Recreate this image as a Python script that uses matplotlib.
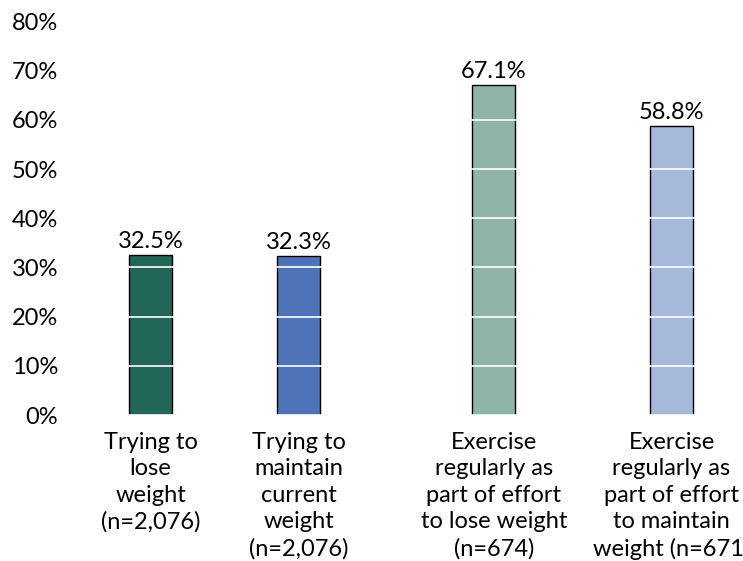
import matplotlib
matplotlib.use("Agg")
import matplotlib.pyplot as plt

# Survey shares by group
categories = [
    "Trying to\nlose\nweight\n(n=2,076)",
    "Trying to\nmaintain\ncurrent\nweight\n(n=2,076)",
    "Exercise\nregularly as\npart of effort\nto lose weight\n(n=674)",
    "Exercise\nregularly as\npart of effort\nto maintain\nweight (n=671)",
]
values = [32.5, 32.3, 67.1, 58.8]
value_labels = ["32.5%", "32.3%", "67.1%", "58.8%"]
y_ticks = [0, 10, 20, 30, 40, 50, 60, 70, 80]

colors = ["#226658", "#4f73b9", "#8fb4aa", "#a6b9db"]
positions = [0, 1, 2.32, 3.52]
bar_width = 0.29

plt.rcParams["font.family"] = ["Lato", "DejaVu Sans"]

fig = plt.figure(figsize=(7.43, 5.61), dpi=100)
W, H = 743, 561
left, right, top, bottom = 65, 743, 21.4, 415
ax = fig.add_axes([left / W, 1 - bottom / H, (right - left) / W, (bottom - top) / H])

ax.bar(positions, values, width=bar_width, color=colors,
       edgecolor="black", linewidth=1.0, zorder=1)

for x, v, lab in zip(positions, values, value_labels):
    ax.text(x, v + 0.6, lab, ha="center", va="bottom", fontsize=17, color="black")

ax.set_ylim(0, 80)
ax.set_xlim(-0.578, 4.003)
ax.set_yticks(y_ticks)
ax.set_yticklabels([f"{t}%" for t in y_ticks])
ax.set_xticks(positions)
ax.set_xticklabels(categories, linespacing=1.32)

# white grid lines drawn on top of the bars
ax.yaxis.grid(True, color="white", linewidth=1.2, zorder=2)
ax.set_axisbelow(False)

for s in ax.spines.values():
    s.set_visible(False)
ax.tick_params(axis="y", length=0, pad=5, labelsize=17)
ax.tick_params(axis="x", length=0, pad=12, labelsize=17)

fig.savefig("out.png", dpi=100)
